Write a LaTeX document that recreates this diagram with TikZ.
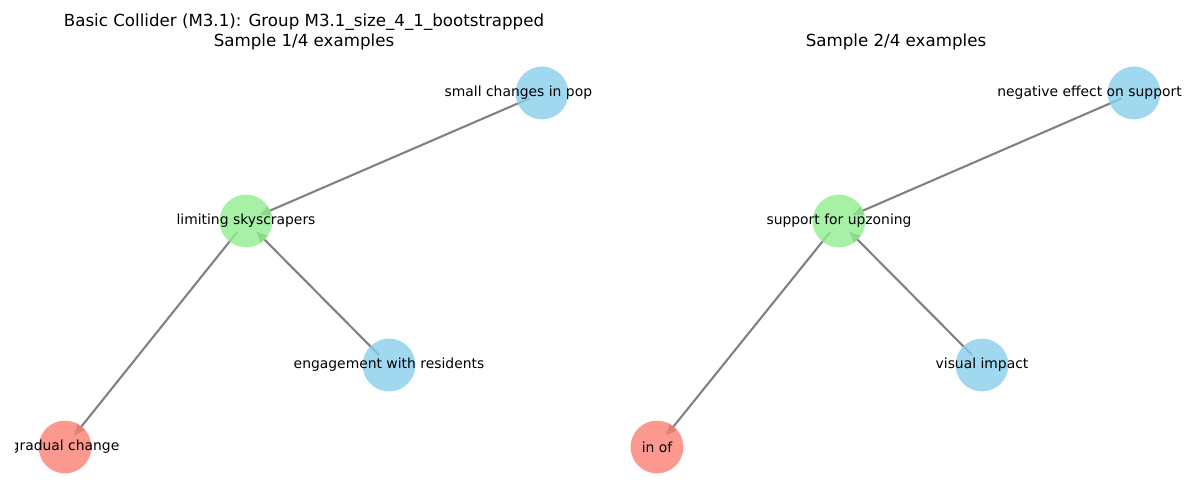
\documentclass[tikz,border=0pt]{standalone}
\usepackage{fontspec}
\setmainfont{DejaVu Sans}
\usetikzlibrary{arrows.meta}
\definecolor{skyblue}{HTML}{87CEEB}
\definecolor{lightgreen}{HTML}{90EE90}
\definecolor{salmon}{HTML}{FA8072}
\definecolor{edgegray}{HTML}{808080}
\pgfdeclarelayer{edgelayer}
\pgfsetlayers{edgelayer,main}
% label that does not widen the circle; optional kern moves it left
\newcommand{\nodetext}[2][0pt]{\makebox[0pt]{\raisebox{-1.4pt}{#2}\kern#1}}
\tikzset{
  varnode/.style={circle, minimum size=38pt, inner sep=0pt, fill opacity=0.8,
                  text opacity=1, font=\fontsize{10}{12}\selectfont},
  cause/.style={varnode, fill=skyblue},
  collider/.style={varnode, fill=lightgreen},
  effect/.style={varnode, fill=salmon},
  edge/.style={draw=edgegray, line width=1.5pt, shorten <=10pt, shorten >=10.5pt,
               -{Triangle[length=8pt,width=6.5pt]}},
  paneltitle/.style={align=center, font=\fontsize{12}{14.5}\selectfont}
}
\begin{document}
\begin{tikzpicture}[x=0.72pt, y=-0.72pt]
  \useasboundingbox (0,0) rectangle (1200,500);
  \clip (15,0) rectangle (1200,500);
  % titles
  \node[paneltitle] (titleA) at (304,32) {Basic Collider (M3.1): Group M3.1\_size\_4\_1\_bootstrapped\\Sample 1/4 examples};
  \node[paneltitle] (titleB) at (896,42) {Sample 2/4 examples};
  % sample 1
  \node[cause] (smallpop) at (542,93) {\nodetext[34pt]{small changes in pop}};
  \node[collider] (limiting) at (246,221) {\nodetext{limiting skyscrapers}};
  \node[cause] (engage) at (389,365) {\nodetext{engagement with residents}};
  \node[effect] (gradual) at (65,447) {\nodetext{gradual change}};
  % sample 2
  \node[cause] (negeff) at (1134,93) {\nodetext[64pt]{negative effect on support}};
  \node[collider] (upzoning) at (839,221) {\nodetext{support for upzoning}};
  \node[cause] (visual) at (982,365) {\nodetext{visual impact}};
  \node[effect] (inof) at (657,447) {\nodetext{in of}};
  \begin{pgfonlayer}{edgelayer}
    \draw[edge] (smallpop.center) -- (limiting.center);
    \draw[edge] (engage.center) -- (limiting.center);
    \draw[edge] (limiting.center) -- (gradual.center);
    \draw[edge] (negeff.center) -- (upzoning.center);
    \draw[edge] (visual.center) -- (upzoning.center);
    \draw[edge] (upzoning.center) -- (inof.center);
  \end{pgfonlayer}
\end{tikzpicture}
\end{document}
